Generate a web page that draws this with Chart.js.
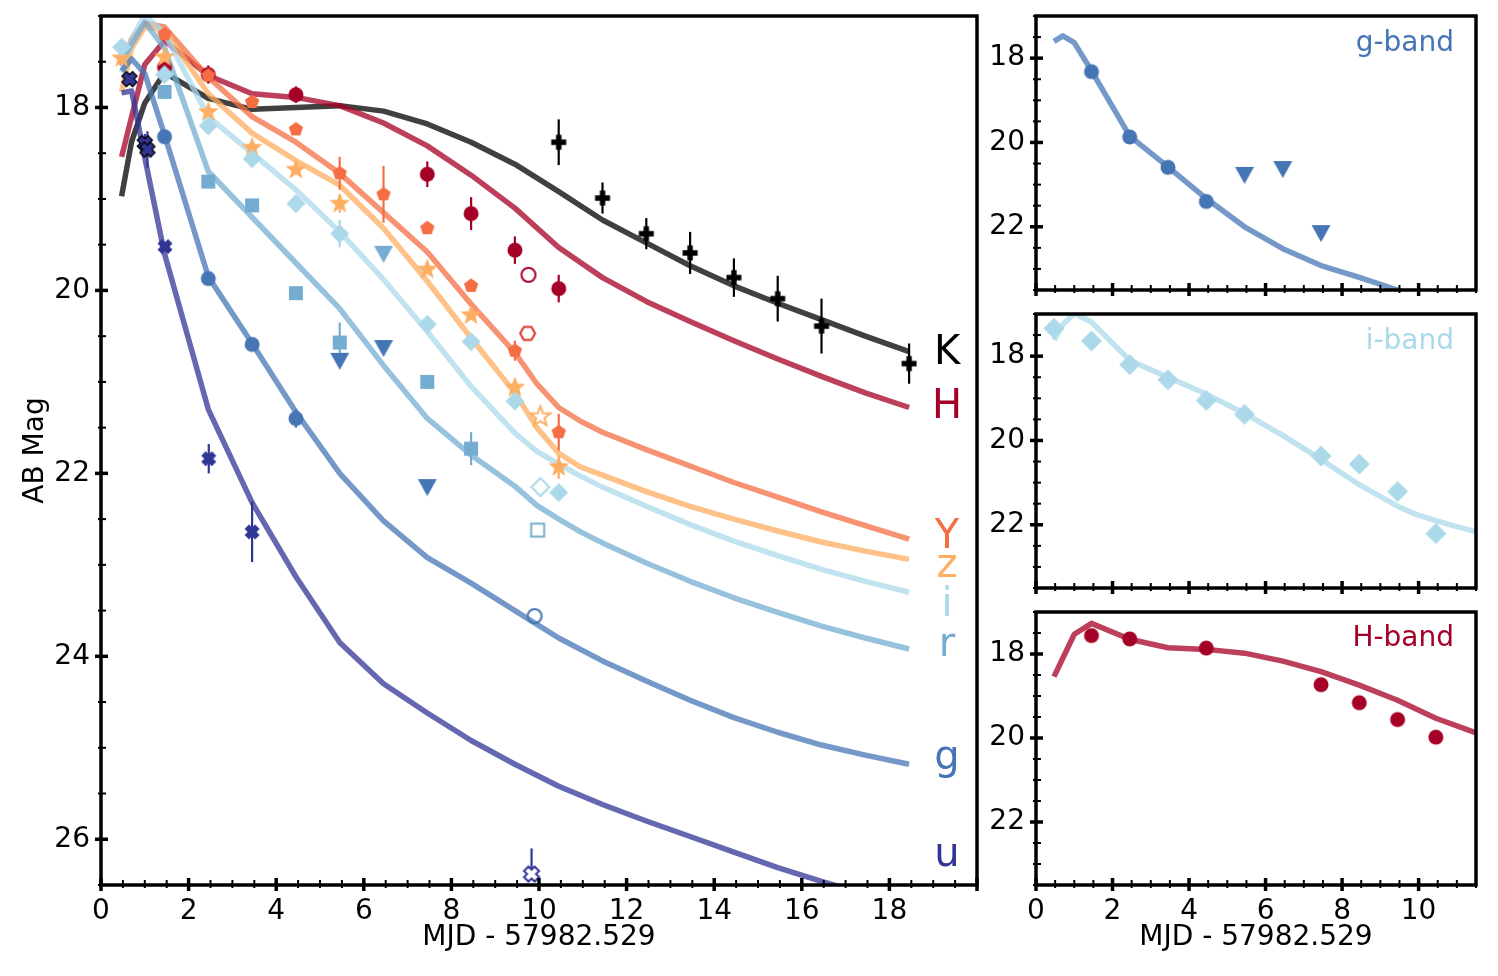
<!DOCTYPE html>
<html><head><meta charset="utf-8">
<script src="https://cdn.jsdelivr.net/npm/chart.js@4.4.1/dist/chart.umd.min.js"></script>
<style>
html,body{margin:0;padding:0;background:#fff;}
body{width:1498px;height:976px;position:relative;overflow:hidden;}
canvas{position:absolute;}
.t{position:absolute;font-family:'DejaVu Sans';line-height:1;white-space:nowrap;}
</style></head><body>
<canvas id="cMain" width="985" height="976" style="left:0px;top:0px"></canvas>
<canvas id="cG" width="513" height="300" style="left:985px;top:0px"></canvas>
<canvas id="cI" width="513" height="297" style="left:985px;top:300px"></canvas>
<canvas id="cH" width="513" height="379" style="left:985px;top:597px"></canvas>
<div id="labels"></div>
<script>
// ---------------- DATA ----------------
const MAIN_X_TICKS = [0, 2, 4, 6, 8, 10, 12, 14, 16, 18];
const MAIN_Y_TICKS = [18, 20, 22, 24, 26];
const PANEL_X_TICKS = [0, 2, 4, 6, 8, 10];
const PANEL_Y_TICKS = [18, 20, 22];

// model light curves
const MODEL_T = [0.47, 0.7, 1.0, 1.45, 2.45, 3.45, 4.45, 5.45, 6.45, 7.45, 8.45, 9.45, 10.45, 11.45, 12.45, 13.45, 14.45, 15.45, 16.45, 17.45, 18.45];
const MODEL_K = [18.97, 18.37, 17.95, 17.62, 17.9, 18.02, 18.0, 17.98, 18.04, 18.18, 18.38, 18.62, 18.92, 19.23, 19.48, 19.73, 19.95, 20.14, 20.32, 20.5, 20.67];
const MODEL_H = [18.54, 18.1, 17.53, 17.27, 17.65, 17.85, 17.89, 17.98, 18.17, 18.42, 18.74, 19.1, 19.53, 19.86, 20.12, 20.34, 20.55, 20.75, 20.94, 21.12, 21.28];
const MODEL_G = [17.6, 17.47, 17.63, 18.3, 19.85, 20.58, 21.33, 22.0, 22.52, 22.92, 23.2, 23.5, 23.8, 24.05, 24.27, 24.48, 24.67, 24.83, 24.97, 25.08, 25.18];
const MODEL_U = [17.84, 17.82, 18.55, 19.6, 21.3, 22.32, 23.13, 23.85, 24.3, 24.62, 24.92, 25.18, 25.42, 25.62, 25.8, 25.97, 26.14, 26.31, 26.46, 26.6, 26.74];
// bands with a knee near day 10 are read at a finer step there
const MODEL_T_FINE = [0.47, 0.7, 1.0, 1.45, 2.45, 3.45, 4.45, 5.45, 6.45, 7.45, 8.45, 9.45, 9.95, 10.45, 10.95, 11.45, 12.45, 13.45, 14.45, 15.45, 16.45, 17.45, 18.45];
const MODEL_Y = [17.55, 17.25, 17.08, 17.12, 17.67, 18.1, 18.38, 18.72, 19.15, 19.58, 20.15, 20.68, 21.02, 21.28, 21.43, 21.55, 21.74, 21.92, 22.1, 22.26, 22.42, 22.57, 22.72];
const MODEL_Z = [17.83, 17.35, 17.12, 17.15, 17.85, 18.28, 18.58, 18.85, 19.32, 19.9, 20.52, 21.12, 21.5, 21.78, 21.93, 22.02, 22.2, 22.36, 22.5, 22.63, 22.75, 22.85, 22.94];
const MODEL_I = [17.62, 17.25, 16.99, 17.19, 18.1, 18.5, 18.9, 19.36, 19.88, 20.45, 21.05, 21.56, 21.76, 21.9, 22.03, 22.15, 22.36, 22.56, 22.74, 22.9, 23.05, 23.18, 23.3];
const MODEL_R = [17.5, 17.31, 17.07, 17.35, 18.7, 19.2, 19.7, 20.2, 20.82, 21.4, 21.8, 22.14, 22.35, 22.5, 22.64, 22.76, 22.98, 23.18, 23.36, 23.52, 23.67, 23.8, 23.92];

// observations
const U1_T = [0.65, 1.0, 1.06];
const U1_M = [17.69, 18.39, 18.46];
const U1_E = [0.04, 0.1, 0.2];
const U_T = [1.46, 2.46, 3.45];
const U_M = [19.52, 21.84, 22.64];
const U_E = [0.04, 0.16, 0.33];
const U_OPEN_T = [9.83];
const U_OPEN_M = [26.38];
const U_OPEN_E = [[0.28, 0]];

const G_T = [1.45, 2.45, 3.45, 4.45];
const G_M = [18.32, 19.87, 20.59, 21.4];
const G_E = [0.03, 0.03, 0.04, 0.1];
const G_LIM_T = [5.45, 6.45, 7.45];
const G_LIM_M = [20.77, 20.63, 22.15];
const G_OPEN_T = [9.9];
const G_OPEN_M = [23.56];

const R_T = [1.45, 2.45, 3.45, 4.45, 5.45, 7.45, 8.45];
const R_M = [17.83, 18.81, 19.07, 20.03, 20.57, 21.0, 21.73];
const R_E = [0.03, 0.03, 0.03, 0.03, 0.22, 0.06, 0.18];
const R_LIM_T = [6.45];
const R_LIM_M = [19.6];
const R_OPEN_T = [9.97];
const R_OPEN_M = [22.62];

const I_T = [0.47, 1.45, 2.45, 3.45, 4.45, 5.45, 7.45, 8.45, 9.45, 10.45];
const I_M = [17.34, 17.64, 18.2, 18.56, 19.05, 19.38, 20.37, 20.56, 21.21, 22.21];
const I_E = [0, 0, 0, 0, 0, 0.15, 0.04, 0, 0, 0];
const I_OPEN_T = [10.03];
const I_OPEN_M = [22.15];

const Z_T = [0.47, 1.45, 2.45, 3.45, 4.45, 5.45, 7.45, 8.45, 9.45, 10.45];
const Z_M = [17.46, 17.45, 18.05, 18.44, 18.68, 19.05, 19.77, 20.27, 21.06, 21.93];
const Z_E = [0, 0, 0, 0, 0, 0.1, 0.05, 0, 0, 0.13];
const Z_OPEN_T = [10.03];
const Z_OPEN_M = [21.38];

const Y_T = [1.45, 2.45, 3.45, 4.45, 5.45, 6.45, 7.45, 8.45, 9.45, 10.45];
const Y_M = [17.2, 17.65, 17.94, 18.24, 18.72, 18.95, 19.32, 19.95, 20.66, 21.55];
const Y_E = [0, 0, 0, 0, 0.18, 0.31, 0, 0, 0.11, 0.2];
const J_OPEN_T = [9.74];
const J_OPEN_M = [20.47];

const H_T = [1.45, 2.45, 4.45, 7.45, 8.45, 9.45, 10.45];
const H_M = [17.56, 17.64, 17.86, 18.73, 19.16, 19.56, 19.98];
const H_E = [0.05, 0.1, 0.09, 0.14, 0.18, 0.15, 0.15];
const H_OPEN_T = [9.76];
const H_OPEN_M = [19.83];

const K_T = [10.45, 11.45, 12.45, 13.45, 14.45, 15.45, 16.45, 18.45];
const K_M = [18.38, 18.99, 19.38, 19.59, 19.86, 20.09, 20.39, 20.8];
const K_E = [0.25, 0.17, 0.17, 0.23, 0.21, 0.25, 0.3, 0.22];

const BAND_LABELS = ['K', 'H', 'Y', 'z', 'i', 'r', 'g', 'u'];
const PANEL_TITLES = ['g-band', 'i-band', 'H-band'];
const X_TITLE = 'MJD - 57982.529';
const Y_TITLE = 'AB Mag';

// ---------------- STYLE ----------------
const COL = {u:'#313695', g:'#4575b4', r:'#74add1', i:'#abd9e9', z:'#fdae61', Y:'#f46d43', H:'#a50026', K:'#000000', J:'#d73027'};
const BAND_LABEL_COLORS = [COL.K, COL.H, COL.Y, COL.z, COL.i, COL.r, COL.g, COL.u];
const LABEL_LAYOUT = {cx: 947, base: [364, 418, 548, 577, 616, 656, 769, 866], size: 40};
const PANEL_TITLE_LAYOUT = {right: 1454, base: [52, 350, 647], size: 28, colors: [COL.g, COL.i, COL.H]};

Chart.defaults.font.family = "'DejaVu Sans'";
Chart.defaults.font.size = 28;
Chart.defaults.color = '#000';

function rgba(hex, a) {
  const n = parseInt(hex.slice(1), 16);
  return 'rgba(' + ((n >> 16) & 255) + ',' + ((n >> 8) & 255) + ',' + (n & 255) + ',' + a + ')';
}

function marker(shape, size, fill, stroke, lw) {
  const S = Math.ceil(size) * 2 + 6;
  const c = document.createElement('canvas');
  c.width = S; c.height = S;
  const g = c.getContext('2d');
  g.translate(S / 2, S / 2);
  const r = size / 2;
  const poly = pts => { pts.forEach((p, k) => k ? g.lineTo(p[0], p[1]) : g.moveTo(p[0], p[1])); g.closePath(); };
  const reg = (n, rad, start) => { const p = []; for (let k = 0; k < n; k++) { const a = (start + k * 360 / n) * Math.PI / 180; p.push([rad * Math.cos(a), rad * Math.sin(a)]); } return p; };
  g.beginPath();
  if (shape === 'circle') g.arc(0, 0, r, 0, Math.PI * 2);
  else if (shape === 'square') g.rect(-r, -r, size, size);
  else if (shape === 'diamond') poly([[0, -r], [r, 0], [0, r], [-r, 0]]);
  else if (shape === 'tri') poly([[-r, -r * 0.85], [r, -r * 0.85], [0, r * 0.95]]);
  else if (shape === 'star') { const p = []; for (let k = 0; k < 10; k++) { const a = (-90 + 36 * k) * Math.PI / 180; const rr = k % 2 ? r * 0.42 : r; p.push([rr * Math.cos(a), rr * Math.sin(a)]); } poly(p); }
  else if (shape === 'pent') poly(reg(5, r, -90));
  else if (shape === 'hex') poly(reg(6, r, 0));
  else if (shape === 'plus' || shape === 'x') {
    const a = shape === 'plus' ? r * 0.36 : r * 0.42;
    const R = r;
    let p = [[-a,-R],[a,-R],[a,-a],[R,-a],[R,a],[a,a],[a,R],[-a,R],[-a,a],[-R,a],[-R,-a],[-a,-a]];
    if (shape === 'x') { const cs = Math.SQRT1_2; p = p.map(q => [(q[0] - q[1]) * cs, (q[0] + q[1]) * cs]); }
    poly(p);
  }
  if (fill) { g.fillStyle = fill; g.fill(); }
  if (stroke) { g.lineWidth = lw; g.strokeStyle = stroke; g.lineJoin = 'miter'; g.stroke(); }
  return c;
}

const pts = (T, M) => T.map((t, k) => ({x: t, y: M[k]}));
function lineDS(T, M, color, order) {
  return {data: pts(T, M), showLine: true, borderColor: rgba(color, 0.75), borderWidth: 5.5, pointRadius: 0,
          pointHoverRadius: 0, tension: 0, fill: false, order: order, borderJoinStyle: 'round'};
}
function markDS(T, M, img, order, errs, errColor) {
  return {data: pts(T, M), showLine: false, pointStyle: img, pointRadius: 7, pointHoverRadius: 7,
          order: order, errs: errs, errColor: errColor};
}

const errorBars = {
  id: 'errorBars',
  beforeDatasetDraw(chart, args) {
    const ds = chart.data.datasets[args.index];
    if (!ds.errs) return;
    const ctx = chart.ctx, a = chart.chartArea, xs = chart.scales.x, ys = chart.scales.y;
    ctx.save();
    ctx.beginPath(); ctx.rect(a.left, a.top, a.right - a.left, a.bottom - a.top); ctx.clip();
    ctx.strokeStyle = ds.errColor; ctx.lineWidth = 2.2;
    ds.data.forEach((p, k) => {
      const e = ds.errs[k];
      if (!e) return;
      const lo = Array.isArray(e) ? e[0] : e, hi = Array.isArray(e) ? e[1] : e;
      const px = xs.getPixelForValue(p.x);
      ctx.beginPath();
      ctx.moveTo(px, ys.getPixelForValue(p.y - lo));
      ctx.lineTo(px, ys.getPixelForValue(p.y + hi));
      ctx.stroke();
    });
    ctx.restore();
  }
};

const frameTicks = {
  id: 'frameTicks',
  afterDraw(chart) {
    const ctx = chart.ctx, a = chart.chartArea, xs = chart.scales.x, ys = chart.scales.y;
    ctx.save();
    ctx.strokeStyle = '#000';
    const isMaj = v => Math.abs(v / 2 - Math.round(v / 2)) < 1e-6;
    for (let k = Math.ceil(xs.min / 0.5); k * 0.5 <= xs.max + 1e-9; k++) {
      const v = k * 0.5, px = xs.getPixelForValue(v), M = isMaj(v);
      ctx.lineWidth = M ? 3.5 : 2;
      ctx.beginPath(); ctx.moveTo(px, a.bottom + (M ? 6 : 3)); ctx.lineTo(px, a.bottom - (M ? 7 : 5)); ctx.stroke();
    }
    for (let k = Math.ceil(ys.min / 0.5); k * 0.5 <= ys.max + 1e-9; k++) {
      const v = k * 0.5, py = ys.getPixelForValue(v), M = isMaj(v);
      ctx.lineWidth = M ? 3.5 : 2;
      ctx.beginPath(); ctx.moveTo(a.left - (M ? 6 : 3), py); ctx.lineTo(a.left + (M ? 7 : 5), py); ctx.stroke();
    }
    ctx.lineWidth = 3.5;
    ctx.strokeRect(a.left, a.top, a.right - a.left, a.bottom - a.top);
    ctx.restore();
  }
};

function makeChart(id, cfg) {
  return new Chart(document.getElementById(id), {
    type: 'scatter',
    data: {datasets: cfg.datasets},
    options: {
      responsive: false, animation: false, devicePixelRatio: 1, events: [],
      layout: {padding: cfg.padding},
      plugins: {legend: {display: false}, tooltip: {enabled: false}},
      scales: {
        x: {type: 'linear', min: cfg.xmin, max: cfg.xmax,
            grid: {display: false, drawTicks: false}, border: {display: false},
            ticks: {display: cfg.xLabels, padding: 10, color: '#000', font: {size: 28}},
            afterBuildTicks: s => { s.ticks = cfg.xTicks.map(v => ({value: v})); },
            afterFit: s => { s.height = cfg.xAxisH; s.paddingLeft = 0; s.paddingRight = 0; },
            title: {display: !!cfg.xTitle, text: cfg.xTitle || '', color: '#000', font: {size: 28}, padding: {top: 0, bottom: 21}}},
        y: {type: 'linear', min: cfg.ymin, max: cfg.ymax, reverse: true,
            grid: {display: false, drawTicks: false}, border: {display: false},
            ticks: {display: true, padding: 11, color: '#000', font: {size: 28}},
            afterBuildTicks: s => { s.ticks = cfg.yTicks.map(v => ({value: v})); },
            afterFit: s => { s.width = cfg.yAxisW; s.paddingTop = 0; s.paddingBottom = 0; },
            title: {display: !!cfg.yTitle, text: cfg.yTitle || '', color: '#000', font: {size: 28}, padding: {top: 19, bottom: 0}}}
      }
    },
    plugins: [errorBars, frameTicks]
  });
}

// markers
const mk = {
  uX: marker('x', 15, COL.u, '#000', 1.3),
  uX2: marker('x', 15, COL.u, null, 0),
  uXo: marker('x', 15, '#ffffff', COL.u, 2),
  gC: marker('circle', 15, COL.g), gCo: marker('circle', 14, null, COL.g, 2), gT: marker('tri', 19, COL.g),
  rS: marker('square', 14, COL.r), rSo: marker('square', 13, null, COL.r, 2), rT: marker('tri', 19, COL.r),
  iD: marker('diamond', 19, COL.i), iDo: marker('diamond', 18, null, COL.i, 2),
  zS: marker('star', 22, COL.z), zSo: marker('star', 21, null, COL.z, 2),
  YP: marker('pent', 15, COL.Y), JH: marker('hex', 15, null, COL.J, 2),
  HC: marker('circle', 15, COL.H), HCo: marker('circle', 14, null, COL.H, 2),
  KP: marker('plus', 15, COL.K),
  gCp: marker('circle', 15, COL.g), gTp: marker('tri', 19, COL.g), iDp: marker('diamond', 21, COL.i), HCp: marker('circle', 15, COL.H)
};

makeChart('cMain', {
  padding: {left: 0, top: 16, right: 6, bottom: 0},
  xmin: 0, xmax: 20, ymin: 17, ymax: 26.5, xTicks: MAIN_X_TICKS, yTicks: MAIN_Y_TICKS,
  xAxisH: 91, yAxisW: 101, xLabels: true, xTitle: X_TITLE, yTitle: Y_TITLE,
  datasets: [
    markDS(U_OPEN_T, U_OPEN_M, mk.uXo, 1, U_OPEN_E, COL.u),
    markDS(U_T, U_M, mk.uX2, 2, U_E, COL.u),
    markDS(U1_T, U1_M, mk.uX, 3, U1_E, COL.u),
    markDS(G_OPEN_T, G_OPEN_M, mk.gCo, 4),
    markDS(G_LIM_T, G_LIM_M, mk.gT, 5),
    markDS(G_T, G_M, mk.gC, 6, G_E, COL.g),
    markDS(R_OPEN_T, R_OPEN_M, mk.rSo, 7),
    markDS(R_LIM_T, R_LIM_M, mk.rT, 8),
    markDS(R_T, R_M, mk.rS, 9, R_E, COL.r),
    markDS(I_OPEN_T, I_OPEN_M, mk.iDo, 10),
    markDS(I_T, I_M, mk.iD, 11, I_E, COL.i),
    markDS(Z_OPEN_T, Z_OPEN_M, mk.zSo, 12),
    markDS(Z_T, Z_M, mk.zS, 13, Z_E, COL.z),
    markDS(Y_T, Y_M, mk.YP, 14, Y_E, COL.Y),
    markDS(J_OPEN_T, J_OPEN_M, mk.JH, 15),
    markDS(H_OPEN_T, H_OPEN_M, mk.HCo, 16),
    markDS(H_T, H_M, mk.HC, 17, H_E, COL.H),
    markDS(K_T, K_M, mk.KP, 18, K_E, COL.K),
    lineDS(MODEL_T, MODEL_U, COL.u, 20),
    lineDS(MODEL_T, MODEL_G, COL.g, 21),
    lineDS(MODEL_T_FINE, MODEL_R, COL.r, 22),
    lineDS(MODEL_T_FINE, MODEL_I, COL.i, 23),
    lineDS(MODEL_T_FINE, MODEL_Z, COL.z, 24),
    lineDS(MODEL_T_FINE, MODEL_Y, COL.Y, 25),
    lineDS(MODEL_T, MODEL_H, COL.H, 26),
    lineDS(MODEL_T, MODEL_K, COL.K, 27)
  ]
});

const panelBase = {xmin: 0, xmax: 11.5, ymin: 17, ymax: 23.5, xTicks: PANEL_X_TICKS, yTicks: PANEL_Y_TICKS, yAxisW: 51};
makeChart('cG', Object.assign({}, panelBase, {
  padding: {left: 0, top: 16, right: 22, bottom: 0}, xAxisH: 10, xLabels: false,
  datasets: [markDS(G_T, G_M, mk.gCp, 1), markDS(G_LIM_T, G_LIM_M, mk.gTp, 2), lineDS(MODEL_T, MODEL_G, COL.g, 10)]
}));
makeChart('cI', Object.assign({}, panelBase, {
  padding: {left: 0, top: 14, right: 22, bottom: 0}, xAxisH: 9, xLabels: false,
  datasets: [markDS(I_T, I_M, mk.iDp, 1), lineDS(MODEL_T_FINE, MODEL_I, COL.i, 10)]
}));
makeChart('cH', Object.assign({}, panelBase, {
  padding: {left: 0, top: 15, right: 22, bottom: 0}, xAxisH: 91, xLabels: true, xTitle: X_TITLE,
  datasets: [markDS(H_T, H_M, mk.HCp, 1), lineDS(MODEL_T, MODEL_H, COL.H, 10)]
}));

// text labels
const lab = document.getElementById('labels');
BAND_LABELS.forEach((t, k) => {
  const d = document.createElement('div');
  d.className = 't'; d.textContent = t;
  d.style.fontSize = LABEL_LAYOUT.size + 'px';
  d.style.color = BAND_LABEL_COLORS[k];
  d.style.left = LABEL_LAYOUT.cx + 'px';
  d.style.top = (LABEL_LAYOUT.base[k] - 0.846 * LABEL_LAYOUT.size) + 'px';
  d.style.transform = 'translateX(-50%)';
  lab.appendChild(d);
});
PANEL_TITLES.forEach((t, k) => {
  const d = document.createElement('div');
  d.className = 't'; d.textContent = t;
  d.style.fontSize = PANEL_TITLE_LAYOUT.size + 'px';
  d.style.color = PANEL_TITLE_LAYOUT.colors[k];
  d.style.right = (1498 - PANEL_TITLE_LAYOUT.right) + 'px';
  d.style.top = (PANEL_TITLE_LAYOUT.base[k] - 0.846 * PANEL_TITLE_LAYOUT.size) + 'px';
  lab.appendChild(d);
});
</script>
</body></html>
